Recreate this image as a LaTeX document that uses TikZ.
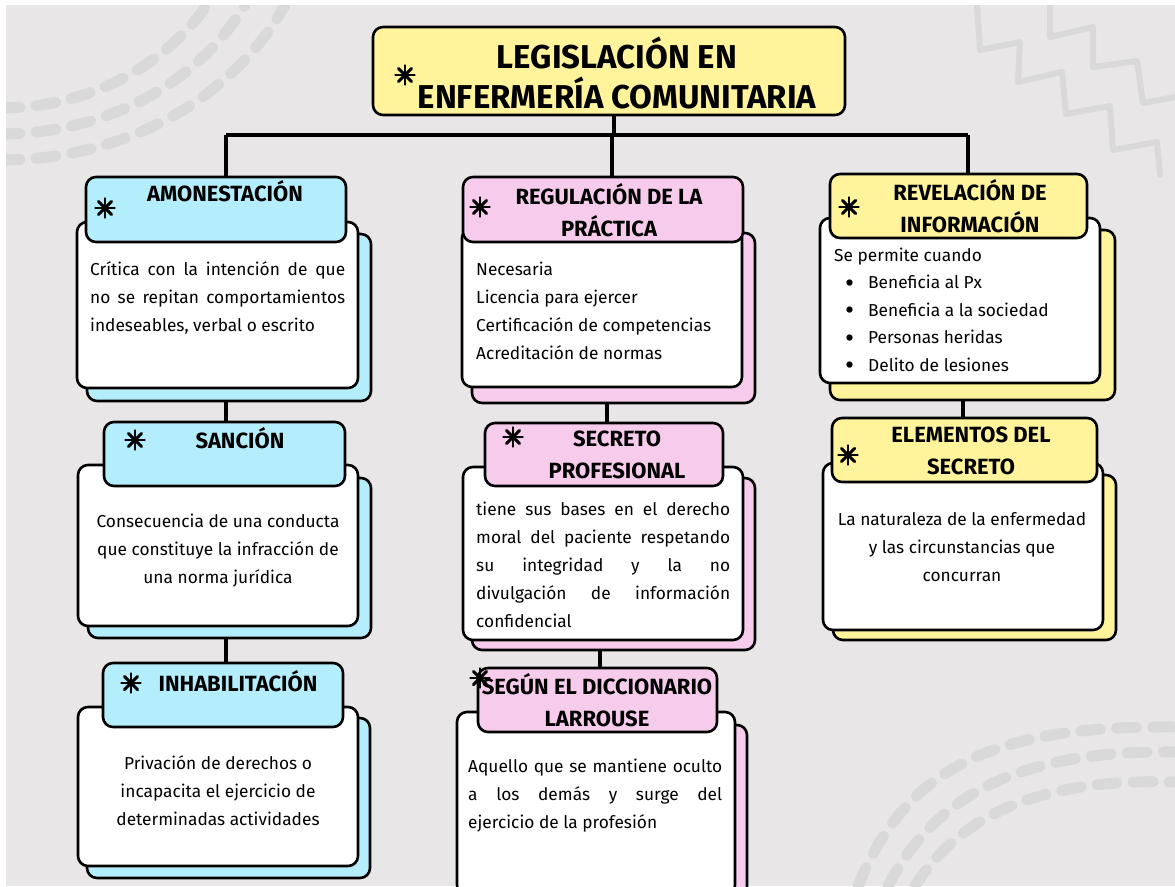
\documentclass[tikz,border=0pt]{standalone}
\usepackage{fontspec}
\setmainfont{Fira Sans}
\definecolor{bg}{HTML}{E8E6E7}
\definecolor{deco}{HTML}{DAD9D9}
\definecolor{cblue}{HTML}{B4EEFC}
\definecolor{cpink}{HTML}{F6CBEC}
\definecolor{cyel}{HTML}{FFF49B}
\newcommand{\jl}[2]{\makebox[#1][s]{#2}}
\newcommand{\bul}{\hspace*{11pt}\makebox[23pt][l]{\raisebox{-3.5pt}{\scalebox{1.6}{•}}}}
\begin{document}
\begin{tikzpicture}[x=1pt,y=-1pt,
  card/.style={draw=black, line width=2.6pt, rounded corners=10pt, inner sep=0pt},
  conn/.style={line width=3.6pt, black},
  htext/.style={inner sep=0pt, anchor=base, align=center, font=\fontsize{22}{32}\selectfont\bfseries},
  ttext/.style={inner sep=0pt, anchor=base, align=center, font=\fontsize{33}{40}\selectfont\bfseries},
  btext/.style={inner sep=0pt, font=\fontsize{17.3}{28}\selectfont},
  decoarc/.style={deco, line width=11pt, line cap=round, dash pattern=on 20pt off 16pt},
  decozig/.style={deco, line width=6pt, line cap=round, line join=round},
  astk/.pic={\foreach \a in {0,45,90,135}{\draw[line width=2.9pt, line cap=round] (\a:9.5pt) -- (\a+180:9.5pt);}}
]
\useasboundingbox (0,0) rectangle (1175,886);
\fill[white] (0,0) rectangle (1175,886);
\fill[bg] (6,5) rectangle (1175,886);
% decorations
\begin{scope}
\clip (6,5) rectangle (1175,886);
\draw[decoarc] (0,108) .. controls (90,108) and (165,65) .. (207,5);
\draw[decoarc] (0,134) .. controls (110,134) and (200,80) .. (245,5);
\draw[decoarc] (0,160) .. controls (130,160) and (235,95) .. (285,5);
\draw[decoarc] (858,886) .. controls (905,770) and (990,725) .. (1175,727);
\draw[decoarc] (888,886) .. controls (935,795) and (1020,750) .. (1175,752);
\draw[decoarc] (915,886) .. controls (960,815) and (1040,778) .. (1175,782);
\draw[decozig] (977,5)--(980,50)--(1020,42)--(1018,82)--(1062,72)--(1066,114)--(1110,106)--(1113,150)--(1157,142)--(1160,175);
\draw[decozig] (1050,5)--(1050,37)--(1093,27)--(1093,67)--(1137,61)--(1143,103)--(1175,97);
\end{scope}

% title
\node[card, fill=cyel, minimum width=472, minimum height=88] (title) at (609,71) {};
\node[ttext] (titlet) at (617,108) {LEGISLACIÓN EN\\ENFERMERÍA COMUNITARIA};
\pic at (405,75) {astk};

% column 1
\node[card, fill=cblue, minimum width=284, minimum height=167] (Aback) at (229,317.5) {};
\node[card, fill=white, minimum width=281, minimum height=166] (Abody) at (217.5,305) {};
\node[card, fill=cblue, minimum width=260, minimum height=65] (Ahead) at (216,209.5) {};
\node[htext] (Atitle) at (225,201) {AMONESTACIÓN};
\pic at (105,208) {astk};
\node[btext, anchor=base west, align=left] (Atext) at (90,331) {\jl{255pt}{Crítica con la intención de que}\\\jl{255pt}{no se repitan comportamientos}\\indeseables, verbal o escrito};

\node[card, fill=cblue, minimum width=283, minimum height=160] (Sback) at (229.5,558) {};
\node[card, fill=white, minimum width=280, minimum height=161] (Sbody) at (218,545.5) {};
\node[card, fill=cblue, minimum width=241, minimum height=64] (Shead) at (224.5,454) {};
\node[htext] (Stitle) at (240,448) {SANCIÓN};
\pic at (135,440) {astk};
\node[btext, anchor=base, align=center] (Stext) at (218,583) {Consecuencia de una conducta\\que constituye la infracción de\\una norma jurídica};

\node[card, fill=cblue, minimum width=283, minimum height=160] (Iback) at (228.5,798) {};
\node[card, fill=white, minimum width=280, minimum height=159] (Ibody) at (218,786.5) {};
\node[card, fill=cblue, minimum width=240, minimum height=64] (Ihead) at (223,695) {};
\node[htext] (Ititle) at (238,691) {INHABILITACIÓN};
\pic at (131,683) {astk};
\node[btext, anchor=base, align=center] (Itext) at (218,825) {Privación de derechos o\\incapacita el ejercicio de\\determinadas actividades};

% column 2
\node[card, fill=cpink, minimum width=283, minimum height=170] (Rback) at (613.5,318) {};
\node[card, fill=white, minimum width=280, minimum height=159] (Rbody) at (602,307.5) {};
\node[card, fill=cpink, minimum width=280, minimum height=65] (Rhead) at (603,209.5) {};
\node[htext] (Rtitle) at (609,236) {REGULACIÓN DE LA\\PRÁCTICA};
\pic at (480,207) {astk};
\node[btext, anchor=base west, align=left] (Rtext) at (476,359) {Necesaria\\Licencia para ejercer\\Certificación de competencias\\Acreditación de normas};

\node[card, fill=cpink, minimum width=283, minimum height=172] (Pback) at (613.5,564) {};
\node[card, fill=white, minimum width=280, minimum height=173] (Pbody) at (603,553.5) {};
\node[card, fill=cpink, minimum width=238, minimum height=63] (Phead) at (604,454.5) {};
\node[htext] (Ptitle) at (617,478) {SECRETO\\PROFESIONAL};
\pic at (513,437) {astk};
\node[btext, anchor=base west, align=left] (Ptext) at (476,627) {\jl{254pt}{tiene sus bases en el derecho}\\\jl{254pt}{moral del paciente respetando}\\\jl{254pt}{su integridad y la no}\\\jl{254pt}{divulgación de información}\\confidencial};

\node[card, fill=cpink, minimum width=281, minimum height=175] (Dback) at (606.5,812.5) {};
\node[card, fill=white, minimum width=278, minimum height=183] (Dbody) at (596,803.5) {};
\node[card, fill=cpink, minimum width=239, minimum height=64] (Dhead) at (597.5,700) {};
\node[htext] (Dtitle) at (597,726) {SEGÚN EL DICCIONARIO\\LARROUSE};
\pic at (480,678) {astk};
\node[btext, anchor=base west, align=left] (Dtext) at (468,828) {\jl{254pt}{Aquello que se mantiene oculto}\\\jl{254pt}{a los demás y surge del}\\ejercicio de la profesión};

% column 3
\node[card, fill=cyel, minimum width=285, minimum height=170] (Vback) at (972.5,315) {};
\node[card, fill=white, minimum width=280, minimum height=165] (Vbody) at (960,300.5) {};
\node[card, fill=cyel, minimum width=257, minimum height=64] (Vhead) at (958.5,206) {};
\node[htext] (Vtitle) at (970,232) {REVELACIÓN DE\\INFORMACIÓN};
\pic at (849,207) {astk};
\node[btext, anchor=base west, align=left, font=\fontsize{17.3}{27.5}\selectfont] (Vtext) at (834,371) {Se permite cuando\\\bul Beneficia al Px\\\bul Beneficia a la sociedad\\\bul Personas heridas\\\bul Delito de lesiones};

\node[card, fill=cyel, minimum width=283, minimum height=165] (Eback) at (974.5,557.5) {};
\node[card, fill=white, minimum width=280, minimum height=167] (Ebody) at (963,546.5) {};
\node[card, fill=cyel, minimum width=265, minimum height=64] (Ehead) at (964.5,450) {};
\node[htext] (Etitle) at (971,474) {ELEMENTOS DEL\\SECRETO};
\pic at (848,455) {astk};
\node[btext, anchor=base, align=center] (Etext) at (962,581) {La naturaleza de la enfermedad\\y las circunstancias que\\concurran};

% connectors
\coordinate (busL) at (226,135);
\coordinate (busM) at (612,135);
\coordinate (busR) at (968,135);
\coordinate (xT) at (614,0);
\coordinate (xP) at (607,0);
\coordinate (xD) at (600,0);
\coordinate (xE) at (963,0);
\draw[conn] (title.south -| xT) -- (busL -| xT);
\draw[conn] (busL) -- (busR);
\draw[conn] (busL) -- (Ahead.north -| busL);
\draw[conn] (busM) -- (Rhead.north -| busM);
\draw[conn] (busR) -- (Vhead.north -| busR);
\draw[conn] (Aback.south -| busL) -- (Shead.north -| busL);
\draw[conn] (Sback.south -| busL) -- (Ihead.north -| busL);
\draw[conn] (Rback.south -| xP) -- (Phead.north -| xP);
\draw[conn] (Pback.south -| xD) -- (Dhead.north -| xD);
\draw[conn] (Vback.south -| xE) -- (Ehead.north -| xE);
\end{tikzpicture}
\end{document}
